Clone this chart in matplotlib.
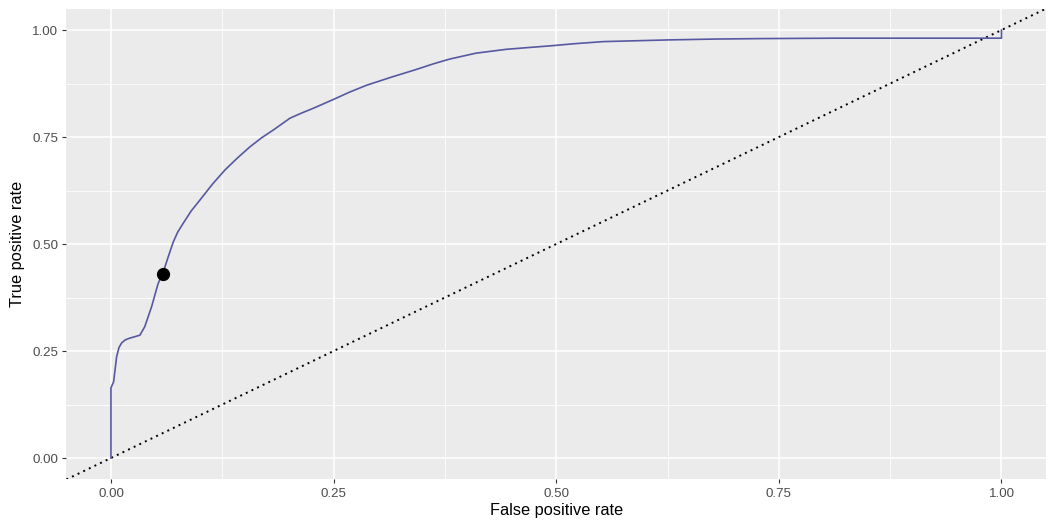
import numpy as np
import matplotlib.pyplot as plt

# ROC curve points
fpr = [0.0, 0.0, 0.003, 0.0064, 0.009, 0.012, 0.016, 0.021, 0.0325, 0.038,
       0.0457, 0.053, 0.058, 0.0643, 0.070, 0.075, 0.081, 0.090, 0.100, 0.114,
       0.128, 0.142, 0.156, 0.169, 0.182, 0.201, 0.214, 0.227, 0.250, 0.268,
       0.287, 0.315, 0.343, 0.362, 0.380, 0.410, 0.444, 0.468, 0.493, 0.520,
       0.553, 0.590, 0.627, 0.680, 0.728, 0.814, 1.0, 1.0]
tpr = [0.0, 0.164, 0.178, 0.237, 0.258, 0.269, 0.276, 0.280, 0.287, 0.307,
       0.354, 0.408, 0.430, 0.470, 0.505, 0.528, 0.548, 0.577, 0.603, 0.640,
       0.673, 0.701, 0.727, 0.748, 0.766, 0.794, 0.806, 0.817, 0.838, 0.855,
       0.871, 0.890, 0.908, 0.921, 0.932, 0.946, 0.955, 0.959, 0.963, 0.968,
       0.973, 0.975, 0.977, 0.979, 0.980, 0.981, 0.981, 1.0]

# chosen threshold
pt_fpr = 0.058
pt_tpr = 0.430

ticks = [0.0, 0.25, 0.5, 0.75, 1.0]
tick_labels = ["0.00", "0.25", "0.50", "0.75", "1.00"]

plt.rcParams['font.family'] = ['Liberation Sans', 'DejaVu Sans']

fig = plt.figure(figsize=(10.46, 5.21), dpi=100)
ax = fig.add_axes([0.0635, 0.0798, 0.9365, 0.9036])
ax.set_facecolor('#EBEBEB')

ax.set_xlim(-0.05, 1.05)
ax.set_ylim(-0.05, 1.05)

# grid
ax.set_xticks(ticks)
ax.set_yticks(ticks)
ax.set_xticks([0.125, 0.375, 0.625, 0.875], minor=True)
ax.set_yticks([0.125, 0.375, 0.625, 0.875], minor=True)
ax.grid(which='major', color='white', linewidth=1.1)
ax.grid(which='minor', color='white', linewidth=0.55)
ax.set_axisbelow(True)
ax.tick_params(which='minor', length=0)
ax.tick_params(which='major', length=3, width=0.8, color='#333333',
               labelcolor='#4D4D4D', labelsize=9.6, pad=3)
ax.set_xticklabels(tick_labels)
ax.set_yticklabels(tick_labels)
for s in ax.spines.values():
    s.set_visible(False)

# diagonal reference
ax.axline((0, 0), slope=1, color='black', linestyle=(0, (1, 2.2)), linewidth=1.4)

ax.plot(fpr, tpr, color='#5659A0', linewidth=1.2)
ax.plot(pt_fpr, pt_tpr, 'o', color='black', markersize=8.5)

ax.set_xlabel('False positive rate', fontsize=11.8, color='black', labelpad=2)
ax.set_ylabel('True positive rate', fontsize=11.8, color='black', labelpad=5)

plt.savefig('out.png', dpi=100)
